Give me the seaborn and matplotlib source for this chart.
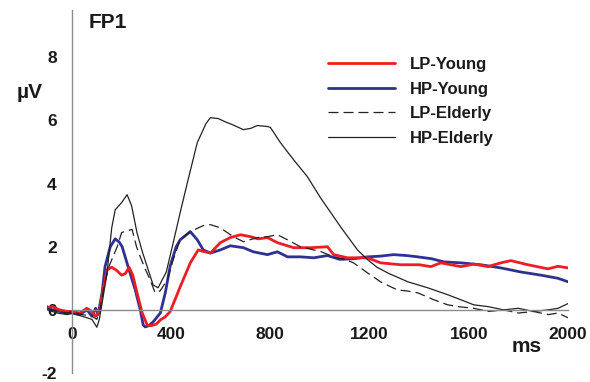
#!/usr/bin/env python3
"""
FP1 ERP waveforms - LP/HP x Young/Elderly
"""

import pandas as pd
import matplotlib.pyplot as plt
import seaborn as sns

# ------------------------------------------------------------------
# Data (time in ms, amplitude in uV)
# ------------------------------------------------------------------
lp_young_t = [-100, -80, -50, -20, 0, 30, 60, 80, 95, 110, 125, 141, 160, 180, 200, 215,
              230, 245, 262, 283, 303, 320, 340, 356, 376, 396, 436, 477, 509, 530, 558,
              598, 638, 679, 719, 750, 788, 828, 893, 962, 1030, 1055, 1111, 1192, 1244,
              1325, 1400, 1447, 1487, 1568, 1620, 1677, 1729, 1770, 1838, 1919, 1960, 2000]
lp_young_v = [0.05, 0.1, 0.0, -0.05, -0.05, -0.1, 0.05, -0.05, -0.2, -0.05, 0.63, 1.27,
              1.35, 1.25, 1.1, 1.15, 1.35, 1.1, 0.54, -0.1, -0.48, -0.5, -0.45, -0.32,
              -0.22, -0.05, 0.73, 1.49, 1.9, 1.85, 1.8, 2.13, 2.29, 2.38, 2.32, 2.25, 2.29,
              2.13, 1.97, 1.97, 2.0, 1.75, 1.65, 1.65, 1.49, 1.43, 1.43, 1.37, 1.49, 1.37,
              1.45, 1.37, 1.49, 1.56, 1.43, 1.3, 1.38, 1.33]

hp_young_t = [-100, -80, -50, -20, 0, 30, 60, 80, 95, 105, 121, 133, 154, 174, 190, 202,
              226, 255, 275, 287, 295, 310, 327, 356, 376, 396, 420, 436, 477, 505, 529,
              558, 598, 638, 691, 731, 788, 828, 869, 921, 974, 1030, 1080, 1135, 1192,
              1240, 1297, 1350, 1394, 1450, 1499, 1568, 1648, 1729, 1810, 1891, 1960, 2000]
hp_young_v = [0.1, 0.0, -0.05, -0.1, -0.1, -0.15, 0.0, -0.2, 0.05, -0.15, 0.54, 1.37, 2.0,
              2.25, 2.15, 2.0, 1.37, 0.63, 0.0, -0.48, -0.54, -0.5, -0.38, -0.1, 0.54, 1.4,
              2.0, 2.22, 2.48, 2.22, 1.9, 1.8, 1.9, 2.03, 1.97, 1.84, 1.75, 1.84, 1.68, 1.68,
              1.65, 1.72, 1.6, 1.62, 1.68, 1.7, 1.75, 1.72, 1.68, 1.62, 1.52, 1.49, 1.43,
              1.33, 1.2, 1.1, 1.0, 0.89]

lp_elderly_t = [-100, -60, -20, 0, 40, 80, 100, 115, 130, 150, 182, 200, 220, 242, 260,
                275, 295, 315, 335, 355, 384, 408, 436, 477, 529, 558, 598, 650, 691, 747,
                788, 828, 869, 921, 974, 1002, 1055, 1100, 1135, 1192, 1244, 1280, 1313,
                1350, 1394, 1459, 1515, 1560, 1620, 1680, 1740, 1800, 1860, 1920, 1960, 2000]
lp_elderly_v = [0.05, -0.05, -0.1, -0.05, -0.15, -0.2, -0.3, 0.1, 0.8, 1.4, 2.0, 2.45, 2.5,
                2.55, 2.0, 1.68, 1.3, 0.95, 0.54, 0.6, 0.95, 1.59, 2.22, 2.48, 2.67, 2.7,
                2.6, 2.32, 2.16, 2.29, 2.32, 2.38, 2.22, 2.0, 1.9, 1.85, 1.68, 1.6, 1.49,
                1.17, 0.89, 0.75, 0.63, 0.6, 0.54, 0.32, 0.16, 0.1, 0.05, -0.05, 0.0, -0.1,
                -0.05, -0.15, -0.1, -0.25]

hp_elderly_t = [-100, -60, -20, 0, 40, 80, 100, 110, 125, 141, 160, 174, 200, 222, 240,
                262, 285, 303, 327, 347, 380, 408, 436, 465, 505, 540, 558, 590, 620, 646,
                691, 720, 747, 788, 800, 840, 893, 949, 1002, 1083, 1151, 1192, 1230, 1273,
                1354, 1434, 1515, 1568, 1620, 1680, 1740, 1800, 1860, 1920, 1960, 2000]
hp_elderly_v = [0.0, -0.1, -0.15, -0.1, -0.2, -0.3, -0.55, -0.3, 0.4, 1.17, 2.6, 3.17, 3.4,
                3.65, 3.3, 2.44, 1.8, 1.37, 0.79, 0.7, 1.2, 2.13, 3.08, 4.03, 5.3, 5.9, 6.09,
                6.06, 5.95, 5.87, 5.71, 5.75, 5.84, 5.81, 5.78, 5.3, 4.76, 4.22, 3.55, 2.63,
                1.9, 1.59, 1.35, 1.17, 0.89, 0.7, 0.48, 0.32, 0.16, 0.1, 0.0, 0.05, -0.05,
                0.0, 0.05, 0.2]

y_ticks = [-2, 0, 2, 4, 6, 8]
x_ticks = [0, 400, 800, 1200, 1600, 2000]

series = [
    ("HP-Young", hp_young_t, hp_young_v, "#2e3192", "-", 2.0),
    ("LP-Young", lp_young_t, lp_young_v, "#ee1c24", "-", 2.0),
    ("LP-Elderly", lp_elderly_t, lp_elderly_v, "#222222", (0, (8, 4)), 0.9),
    ("HP-Elderly", hp_elderly_t, hp_elderly_v, "#222222", "-", 0.9),
]

# ------------------------------------------------------------------
# Plot
# ------------------------------------------------------------------
sns.set_style("white")
plt.rcParams["font.family"] = ["Liberation Sans", "DejaVu Sans"]
plt.rcParams["font.weight"] = "bold"
plt.rcParams["axes.unicode_minus"] = False

fig = plt.figure(figsize=(5.9, 3.82), dpi=100)
ax = fig.add_axes([0.0801, 0.02356, 0.8826, 0.9502])

handles = {}
for name, t, v, color, ls, lw in series:
    df = pd.DataFrame({"time": t, "amp": v})
    sns.lineplot(data=df, x="time", y="amp", ax=ax, color=color, linewidth=lw,
                 estimator=None, sort=False)
    line = ax.lines[-1]
    line.set_linestyle(ls)
    handles[name] = line

ax.set_xlim(-100, 2000)
ax.set_ylim(-2, 9.5)
ax.set_xlabel("")
ax.set_ylabel("")

for side in ["top", "right"]:
    ax.spines[side].set_visible(False)
ax.spines["left"].set_position(("data", 0))
ax.spines["bottom"].set_position(("data", 0))
ax.spines["bottom"].set_bounds(0, 2000)
for side in ["left", "bottom"]:
    ax.spines[side].set_color("#8c8c8c")
    ax.spines[side].set_linewidth(1.0)

ax.set_xticks(x_ticks)
ax.set_yticks(y_ticks)
ax.tick_params(axis="both", direction="out", length=5, width=1, color="#8c8c8c",
               labelsize=12.5, labelcolor="#1a1a1a")
ax.tick_params(axis="x", pad=7)
ax.tick_params(axis="y", pad=6)
for lab in ax.get_xticklabels() + ax.get_yticklabels():
    lab.set_fontweight("bold")

order = ["LP-Young", "HP-Young", "LP-Elderly", "HP-Elderly"]
leg = ax.legend([handles[k] for k in order], order, loc="upper left",
                bbox_to_anchor=(328 / 590, 1 - 57 / 382), bbox_transform=fig.transFigure,
                frameon=False, fontsize=12, handlelength=4.0, handletextpad=0.9,
                labelspacing=0.58, borderpad=0, borderaxespad=0)
for txt in leg.get_texts():
    txt.set_fontweight("bold")
    txt.set_color("#1a1a1a")

fig.text(108 / 590, 1 - 23 / 382, "FP1", ha="center", va="center",
         fontsize=15, fontweight="bold", color="#1a1a1a")
fig.text(30 / 590, 1 - 93 / 382, "µV", ha="center", va="center",
         fontsize=15, fontweight="bold", color="#1a1a1a")
fig.text(527 / 590, 1 - 347 / 382, "ms", ha="center", va="center",
         fontsize=15, fontweight="bold", color="#1a1a1a")

fig.savefig("out.png", dpi=100)
plt.close(fig)
